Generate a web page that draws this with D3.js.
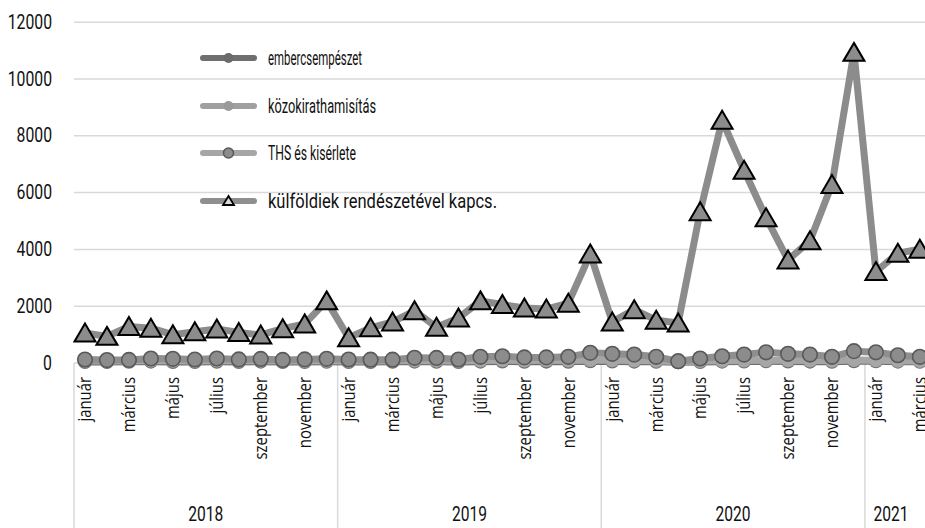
<!DOCTYPE html>
<html><head><meta charset="utf-8">
<script src="https://cdn.jsdelivr.net/npm/d3@7"></script>
<style>
html,body{margin:0;padding:0;background:#fff;}
svg{display:block;}
</style>
</head><body>
<svg id="chart" width="925" height="528"></svg>
<script>
const monthNames = ["január","február","március","április","május","június","július","augusztus","szeptember","október","november","december"];
const years = ["2018","2019","2020","2021"];
const monthsPerYear = [12,12,12,3];
const yTicks = [0,2000,4000,6000,8000,10000,12000];
const seriesNames = ["embercsempészet","közokirathamisítás","THS és kisérlete","külföldiek rendészetével kapcs."];

const embercsempeszet = [20,15,25,30,20,15,25,20,30,20,15,25, 20,15,25,30,25,20,30,35,25,30,25,40, 35,30,25,10,20,30,35,40,35,30,25,45, 40,30,25];
const kozokirathamisitas = [60,50,55,70,60,55,70,60,65,50,55,60, 55,50,60,70,65,55,70,80,70,75,70,90, 80,70,60,30,50,60,70,80,75,70,60,90, 80,60,50];
const ths = [105,85,90,140,130,105,140,110,125,90,110,130, 105,100,100,165,160,105,200,220,180,180,200,340, 305,280,200,45,140,220,280,360,305,280,200,400, 360,255,200];
const kulfoldiek = [1040,920,1270,1210,980,1080,1180,1060,970,1190,1360,2170, 870,1220,1430,1820,1240,1570,2170,2040,1920,1880,2090,3820, 1430,1860,1490,1390,5310,8530,6770,5100,3610,4290,6270,10920, 3200,3850,3990];

const cats = [];
years.forEach((y,yi)=>{ for(let m=0;m<monthsPerYear[yi];m++){ cats.push({key:y+"-"+m, year:y, month:m}); } });

const W = 925, H = 528;
const svg = d3.select("#chart");
const step = 21.97;
const x0 = 74;
const x = d3.scaleBand().domain(cats.map(d=>d.key)).range([x0, x0 + step*cats.length]).paddingInner(0).paddingOuter(0);
const y = d3.scaleLinear().domain([0,12000]).range([362.5, 21.7]);
const cx = k => x(k) + x.bandwidth()/2;

const cond = "Roboto, 'Liberation Sans', sans-serif";
const ink = "#111";
function condense(sel, factor){
  sel.each(function(){
    const w = this.getComputedTextLength();
    this.setAttribute("textLength", (w*factor).toFixed(2));
    this.setAttribute("lengthAdjust","spacingAndGlyphs");
  });
}

// y axis with gridlines
const yAxis = d3.axisLeft(y).tickValues(yTicks).tickSize(-(W - x0 + 10)).tickFormat(d3.format("d"));
const gy = svg.append("g").attr("transform", `translate(${x0},0)`).call(yAxis);
gy.select(".domain").remove();
gy.selectAll(".tick line").attr("stroke","#d9d9d9").attr("stroke-width",1.5);
gy.selectAll(".tick text").attr("x",-22).attr("fill",ink).attr("text-anchor","end")
  .style("font-family",cond).style("font-size","20.5px");
condense(gy.selectAll(".tick text"), 0.77);

// x axis month labels (every other month)
const labelKeys = cats.filter(d=>d.month%2===0).map(d=>d.key);
const xAxis = d3.axisBottom(x).tickValues(labelKeys).tickSize(0).tickFormat(k=>monthNames[+k.split("-")[1]]);
const gx = svg.append("g").attr("transform","translate(0,363)").call(xAxis);
gx.select(".domain").remove();
gx.selectAll(".tick text")
  .attr("transform","rotate(-90)")
  .attr("x",-14).attr("y",0).attr("dy","0.36em")
  .attr("text-anchor","end")
  .attr("fill",ink)
  .style("font-family","'Open Sans',sans-serif").style("font-size","17.5px");
condense(gx.selectAll(".tick text"), 0.85);

// year group separators and labels
const groups = [];
let idx = 0;
years.forEach((yr,yi)=>{ groups.push({year:yr, start:cats[idx].key, end:cats[idx+monthsPerYear[yi]-1].key}); idx += monthsPerYear[yi]; });
const sep = svg.append("g");
groups.forEach(g=>{
  const xs = x(g.start);
  sep.append("line").attr("x1",xs).attr("x2",xs).attr("y1",363).attr("y2",H).attr("stroke","#d9d9d9").attr("stroke-width",1.5);
  const xe = Math.min(x(g.end)+x.bandwidth(), W-8);
  const t = sep.append("text").attr("x",(xs+xe)/2).attr("y",514).attr("dy","0.35em").attr("text-anchor","middle")
    .attr("fill",ink).style("font-family",cond).style("font-size","20.5px").text(g.year);
  condense(t, 0.76);
});

// series
const line = d3.line().x((d,i)=>cx(cats[i].key)).y(d=>y(d));
const triPath = "M0,-9.5L10.5,8.5L-10.5,8.5Z";
const plot = svg.append("g");

function drawSeries(data, lineColor, markerFn){
  plot.append("path").datum(data).attr("d",line).attr("fill","none")
    .attr("stroke",lineColor).attr("stroke-width",7).attr("stroke-linejoin","round").attr("stroke-linecap","round");
  const g = plot.append("g");
  data.forEach((v,i)=>markerFn(g, cx(cats[i].key), y(v)));
}
drawSeries(embercsempeszet, "#6f6f6f", (g,px,py)=>g.append("circle").attr("cx",px).attr("cy",py).attr("r",7).attr("fill","#6f6f6f"));
drawSeries(kozokirathamisitas, "#a6a6a6", (g,px,py)=>g.append("circle").attr("cx",px).attr("cy",py).attr("r",7).attr("fill","#a6a6a6"));
drawSeries(ths, "#8f8f8f", (g,px,py)=>g.append("circle").attr("cx",px).attr("cy",py).attr("r",7.3).attr("fill","#8c8c8c").attr("stroke","#595959").attr("stroke-width",1.6));
drawSeries(kulfoldiek, "#8c8c8c", (g,px,py)=>g.append("path").attr("d",triPath).attr("transform",`translate(${px},${py})`).attr("fill","#8c8c8c").attr("stroke","#000").attr("stroke-width",2).attr("stroke-linejoin","miter"));

// legend
const legY = [58,106,153,201];
const legLine = ["#6f6f6f","#a0a0a0","#a6a6a6","#8f8f8f"];
const legW = [94,108,88,229];
const leg = svg.append("g");
seriesNames.forEach((name,i)=>{
  const ly = legY[i];
  leg.append("line").attr("x1",203).attr("x2",254).attr("y1",ly).attr("y2",ly).attr("stroke",legLine[i]).attr("stroke-width",6).attr("stroke-linecap","round");
  if(i===0) leg.append("circle").attr("cx",228.5).attr("cy",ly).attr("r",5).attr("fill","#6b6b6b");
  if(i===1) leg.append("circle").attr("cx",228.5).attr("cy",ly).attr("r",5).attr("fill","#9a9a9a");
  if(i===2) leg.append("circle").attr("cx",228.5).attr("cy",ly).attr("r",5).attr("fill","#8c8c8c").attr("stroke","#595959").attr("stroke-width",1.5);
  if(i===3) leg.append("path").attr("d","M0,-5L5.5,4L-5.5,4Z").attr("transform",`translate(228.5,${ly})`).attr("fill","#d9d9d9").attr("stroke","#000").attr("stroke-width",1.8);
  leg.append("text").attr("x",268).attr("y",ly).attr("dy","0.35em").attr("fill",ink)
    .style("font-family",cond).style("font-size","21px")
    .attr("textLength",legW[i]).attr("lengthAdjust","spacingAndGlyphs").text(name);
});
</script>
</body></html>
